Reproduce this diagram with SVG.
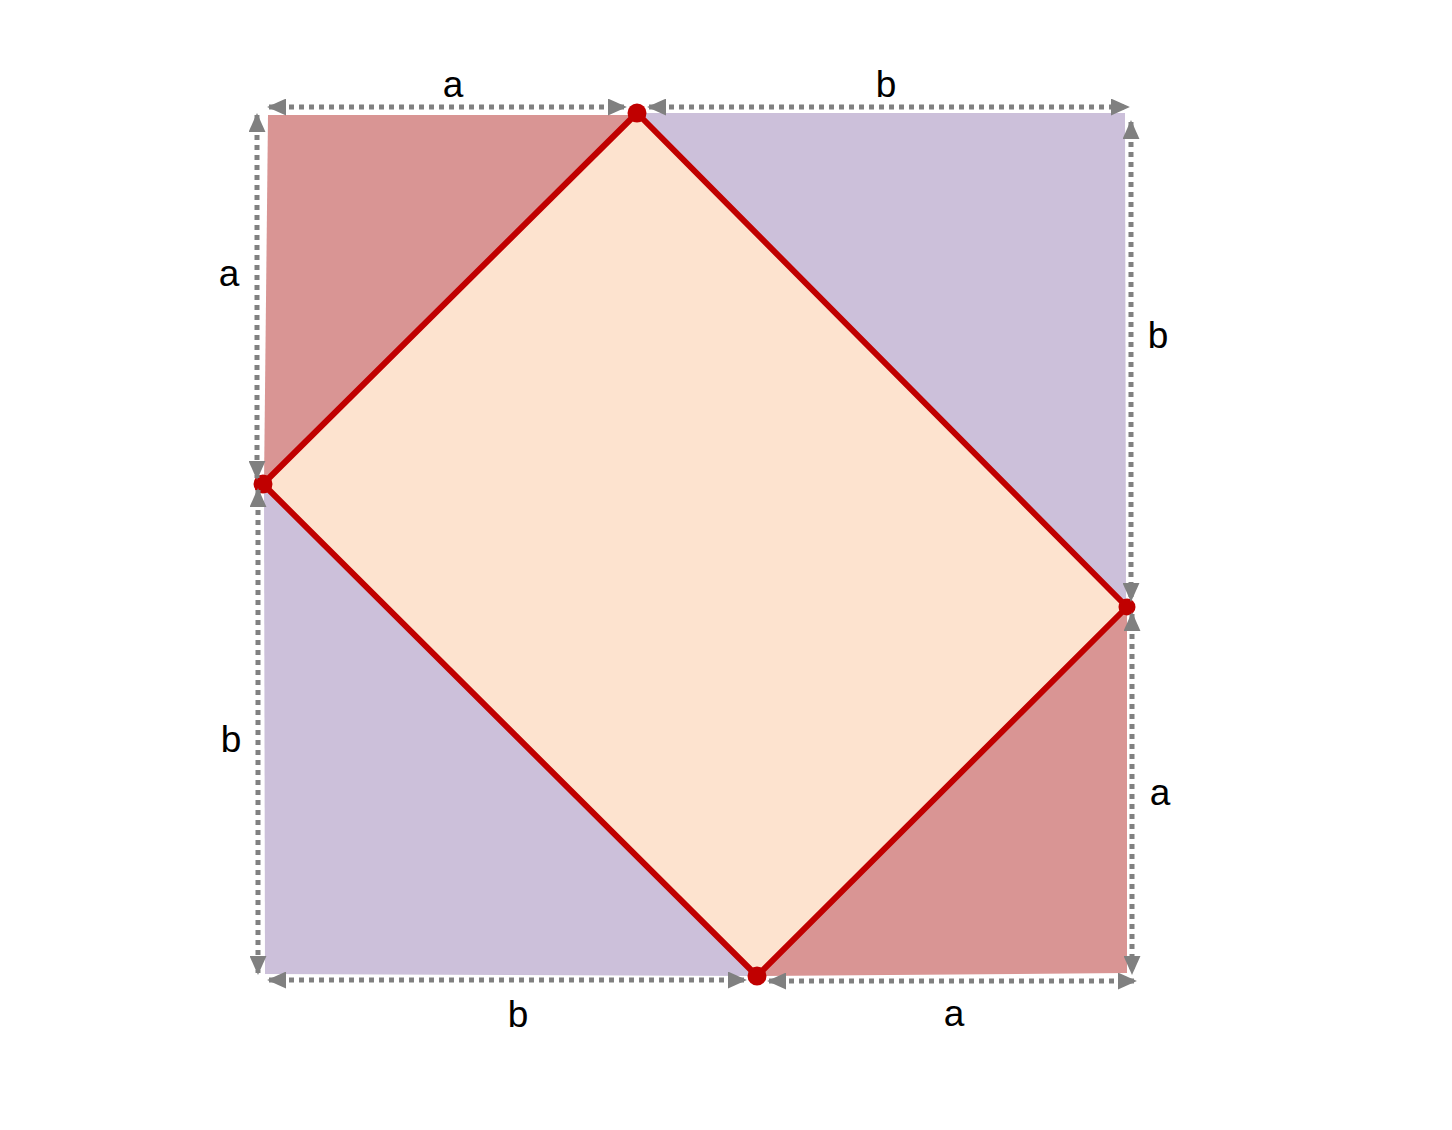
<svg xmlns="http://www.w3.org/2000/svg" width="1452" height="1130" viewBox="0 0 1452 1130">
<style>
.dim{stroke:#808080;stroke-width:5;stroke-dasharray:5 5;fill:none;marker-start:url(#ah);marker-end:url(#ah)}
.lbl{font-family:"Liberation Sans",Arial,sans-serif;font-size:37px;fill:#000;text-anchor:middle}
.edge{stroke:#C00000;stroke-width:6;fill:#FDE3CF;stroke-linejoin:round}
.vtx{fill:#C00000}
</style>
<defs>
<marker id="ah" viewBox="0 0 10 10" refX="9" refY="5" markerWidth="19" markerHeight="17" orient="auto-start-reverse" markerUnits="userSpaceOnUse" preserveAspectRatio="none">
<path d="M0,0 L10,5 L0,10 Z" fill="#808080"/>
</marker>
</defs>
<rect width="1452" height="1130" fill="#fff"/>
<g id="triangles">
<polygon points="268,115 637,115 264,484" fill="#D99594"/>
<polygon points="637,113 1125,113 1126,607" fill="#CCC0DA"/>
<polygon points="1127,607 1127,973 757,976" fill="#D99594"/>
<polygon points="264,484 265,974 757,976" fill="#CCC0DA"/>
</g>
<g id="inner">
<polygon points="637,113 1127,607 757,976 263,484" class="edge"/>
<circle class="vtx" cx="637" cy="113" r="9.5"/>
<circle class="vtx" cx="1127" cy="607" r="8.5"/>
<circle class="vtx" cx="757" cy="976" r="9.5"/>
<circle class="vtx" cx="263" cy="484" r="9.5"/>
</g>
<g id="connectors">
<line class="dim" x1="269" y1="107" x2="625" y2="107"/>
<line class="dim" x1="649" y1="107" x2="1128" y2="107"/>
<line class="dim" x1="257" y1="115" x2="257" y2="478"/>
<line class="dim" x1="258" y1="490" x2="258" y2="973"/>
<line class="dim" x1="1131" y1="122" x2="1131" y2="600"/>
<line class="dim" x1="1132" y1="614" x2="1132" y2="973"/>
<line class="dim" x1="269" y1="980" x2="745" y2="980"/>
<line class="dim" x1="769" y1="981" x2="1135" y2="981"/>
</g>
<g id="labels">
<text class="lbl" x="453" y="97">a</text>
<text class="lbl" x="886" y="97">b</text>
<text class="lbl" x="229" y="286">a</text>
<text class="lbl" x="1158" y="348">b</text>
<text class="lbl" x="231" y="752">b</text>
<text class="lbl" x="1160" y="805">a</text>
<text class="lbl" x="518" y="1027">b</text>
<text class="lbl" x="954" y="1026">a</text>
</g>
</svg>
